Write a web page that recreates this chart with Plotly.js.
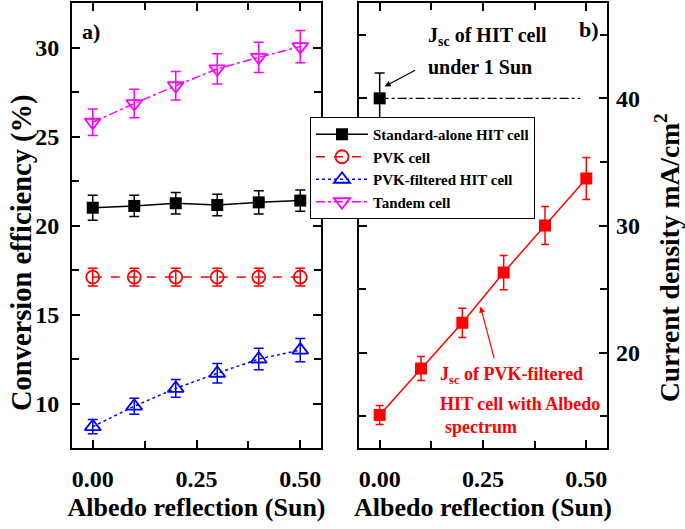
<!DOCTYPE html>
<html>
<head>
<meta charset="utf-8">
<script src="https://cdn.plot.ly/plotly-3.0.1.min.js"></script>
<style>html,body{margin:0;padding:0;background:#fff;}#chart{width:685px;height:529px;}</style>
</head>
<body>
<div id="chart"></div>
<script>
// ---- data ----
var albedo = [0, 0.1, 0.2, 0.3, 0.4, 0.5];
var hitEff = [21.0, 21.1, 21.25, 21.15, 21.3, 21.4];
var hitEffErr = [0.7, 0.6, 0.6, 0.6, 0.65, 0.6];
var pvkEff = [17.1, 17.1, 17.1, 17.1, 17.1, 17.1];
var pvkEffErr = [0.5, 0.5, 0.5, 0.5, 0.5, 0.5];
var filteredEff = [8.7, 9.85, 10.85, 11.7, 12.5, 13.0];
var filteredEffErr = [0.4, 0.45, 0.5, 0.55, 0.6, 0.65];
var tandemEff = [25.8, 26.85, 27.85, 28.8, 29.45, 30.05];
var tandemEffErr = [0.75, 0.8, 0.8, 0.85, 0.85, 0.9];

var hitJscAlbedo = [0];
var hitJsc = [40];
var hitJscErr = [2.0];
var refLineAlbedo = [0, 0.485];
var filteredJsc = [15.1, 18.75, 22.35, 26.3, 30.0, 33.7];
var filteredJscErr = [0.75, 0.95, 1.15, 1.35, 1.5, 1.65];

var xTickVals = [0, 0.25, 0.5];
var xTickText = ['0.00', '0.25', '0.50'];
var legendNames = ['Standard-alone HIT cell', 'PVK cell', 'PVK-filtered HIT cell', 'Tandem cell'];

// ---- chart ----
var FONT = 'Liberation Serif';
function errs(arr, color, w) {
  return {type: 'data', array: arr, visible: true, color: color, thickness: 1.5, width: w};
}
var traces = [
  {x: albedo, y: hitEff, name: legendNames[0], mode: 'lines+markers', xaxis: 'x', yaxis: 'y',
   line: {color: '#000', width: 1.5}, marker: {symbol: 'square', size: 12, color: '#000'},
   error_y: errs(hitEffErr, '#000', 5)},
  {x: albedo, y: pvkEff, name: legendNames[1], mode: 'lines+markers', xaxis: 'x', yaxis: 'y',
   line: {color: '#ff0000', width: 1.5, dash: 'dash'},
   marker: {symbol: 'circle-open', size: 13, color: '#ff0000', line: {width: 1.8}},
   error_y: errs(pvkEffErr, '#ff0000', 5)},
  {x: albedo, y: filteredEff, name: legendNames[2], mode: 'lines+markers', xaxis: 'x', yaxis: 'y',
   line: {color: '#0000ff', width: 1.5, dash: 'dot'},
   marker: {symbol: 'triangle-up-open', size: 14, color: '#0000ff', line: {width: 1.8}},
   error_y: errs(filteredEffErr, '#0000ff', 5)},
  {x: albedo, y: tandemEff, name: legendNames[3], mode: 'lines+markers', xaxis: 'x', yaxis: 'y',
   line: {color: '#ff00ff', width: 1.5, dash: 'dashdot'},
   marker: {symbol: 'triangle-down-open', size: 14, color: '#ff00ff', line: {width: 1.8}},
   error_y: errs(tandemEffErr, '#ff00ff', 5)},
  {x: refLineAlbedo, y: [hitJsc[0], hitJsc[0]], mode: 'lines', xaxis: 'x2', yaxis: 'y2', showlegend: false,
   line: {color: '#000', width: 1.2, dash: 'dashdot'}, hoverinfo: 'skip'},
  {x: hitJscAlbedo, y: hitJsc, mode: 'markers', xaxis: 'x2', yaxis: 'y2', showlegend: false,
   marker: {symbol: 'square', size: 12, color: '#000'}, error_y: errs(hitJscErr, '#000', 5)},
  {x: albedo, y: filteredJsc, mode: 'lines+markers', xaxis: 'x2', yaxis: 'y2', showlegend: false,
   line: {color: '#ff0000', width: 1.5}, marker: {symbol: 'square', size: 12, color: '#ff0000'},
   error_y: errs(filteredJscErr, '#ff0000', 4)},
  // same Jsc data on the label axis (invisible) so that its tick labels are drawn
  {x: albedo, y: filteredJsc, mode: 'markers', xaxis: 'x2', yaxis: 'y3', showlegend: false,
   marker: {opacity: 0}, hoverinfo: 'skip'}
];

function xax(domain, anchor) {
  return {domain: domain, anchor: anchor, range: [-0.05, 0.55], tickvals: xTickVals, ticktext: xTickText,
    ticks: 'inside', ticklen: 8, tickwidth: 2, tickcolor: '#000',
    minor: {tickvals: [0.125, 0.375], ticks: 'inside', ticklen: 7, tickwidth: 2, tickcolor: '#000'},
    showline: true, linewidth: 2, linecolor: '#000', mirror: 'ticks', showgrid: false, zeroline: false,
    tickfont: {size: 24}, ticklabelstandoff: 8,
    title: {text: 'Albedo reflection (Sun)', font: {size: 26}, standoff: 7}};
}
var layout = {
  width: 685, height: 529,
  margin: {l: 72, r: 78, t: 3, b: 81},
  paper_bgcolor: '#fff', plot_bgcolor: '#fff',
  font: {family: FONT, color: '#000', weight: 'bold', size: 16},
  showlegend: true,
  legend: {x: 238/535, y: 1 - 114/445, xref: 'paper', yref: 'paper', xanchor: 'left', yanchor: 'top',
    bgcolor: '#fff', bordercolor: '#000', borderwidth: 1, font: {size: 15, family: FONT, weight: 'bold'},
    itemwidth: 52, tracegroupgap: 0},
  xaxis: xax([0, 249/535], 'y'),
  xaxis2: xax([287/535, 1], 'y2'),
  yaxis: {domain: [0, 1], anchor: 'x', range: [7.5, 32.5], tick0: 0, dtick: 5,
    ticks: 'inside', ticklen: 8, tickwidth: 2, tickcolor: '#000',
    minor: {dtick: 2.5, ticks: 'inside', ticklen: 7, tickwidth: 2, tickcolor: '#000'},
    showline: true, linewidth: 2, linecolor: '#000', mirror: 'ticks', showgrid: false, zeroline: false,
    tickfont: {size: 24}, ticklabelstandoff: 6},
  yaxis2: {domain: [0, 1], anchor: 'x2', side: 'right', range: [12.5, 47.5], tick0: 0, dtick: 10,
    ticks: 'inside', ticklen: 8, tickwidth: 2, tickcolor: '#000',
    minor: {dtick: 5, ticks: 'inside', ticklen: 7, tickwidth: 2, tickcolor: '#000'},
    showline: true, linewidth: 2, linecolor: '#000', mirror: 'ticks', showgrid: false, zeroline: false,
    showticklabels: false},
  yaxis3: {overlaying: 'y2', anchor: 'free', position: 1, side: 'right', range: [12.5, 47.5], tick0: 0, dtick: 10,
    ticks: '', showline: false, showgrid: false, zeroline: false,
    tickfont: {size: 24}, ticklabelstandoff: 8},
  annotations: [
    {xref: 'paper', yref: 'paper', x: -50/535, y: 1 - (253-3)/445, text: 'Conversion efficiency (%)', textangle: -90,
     showarrow: false, xanchor: 'center', yanchor: 'middle', font: {size: 28.5}},
    {xref: 'paper', yref: 'paper', x: (667-72)/535, y: 1 - (258-3)/445, text: 'Current density mA/cm<sup>2</sup>', textangle: -90,
     showarrow: false, xanchor: 'center', yanchor: 'middle', font: {size: 27.5}},
    {xref: 'x', yref: 'y', x: -0.03, y: 30.9, text: 'a)', showarrow: false, xanchor: 'left', yanchor: 'middle', font: {size: 22}},
    {xref: 'x2', yref: 'y2', x: 0.478, y: 45.43, text: 'b)', showarrow: false, xanchor: 'left', yanchor: 'middle', font: {size: 22}},
    {xref: 'x2', yref: 'y2', x: 0.113, y: 44.9, text: 'J<sub>sc</sub> of HIT cell', showarrow: false, xanchor: 'left', yanchor: 'middle', font: {size: 20}},
    {xref: 'x2', yref: 'y2', x: 0.113, y: 42.44, text: 'under 1 Sun', showarrow: false, xanchor: 'left', yanchor: 'middle', font: {size: 20}},
    {xref: 'x2', yref: 'y2', x: 0.012, y: 40.94, text: '', showarrow: true, arrowhead: 2, arrowsize: 1, arrowwidth: 1.2, arrowcolor: '#000', ax: 32, ay: -17},
    {xref: 'x2', yref: 'y2', x: 0.141, y: 18.2, text: 'J<sub>sc</sub> of PVK-filtered', showarrow: false, xanchor: 'left', yanchor: 'middle', font: {size: 18, color: '#ff0000'}},
    {xref: 'x2', yref: 'y2', x: 0.141, y: 15.98, text: 'HIT cell with Albedo', showarrow: false, xanchor: 'left', yanchor: 'middle', font: {size: 18, color: '#ff0000'}},
    {xref: 'x2', yref: 'y2', x: 0.153, y: 14.17, text: 'spectrum', showarrow: false, xanchor: 'left', yanchor: 'middle', font: {size: 18, color: '#ff0000'}},
    {xref: 'x2', yref: 'y2', x: 0.244, y: 23.62, text: '', showarrow: true, arrowhead: 2, arrowsize: 1, arrowwidth: 1.2, arrowcolor: '#ff0000', ax: 14, ay: 53}
  ]
};
Plotly.newPlot('chart', traces, layout, {displayModeBar: false, staticPlot: true});
</script>
</body>
</html>
